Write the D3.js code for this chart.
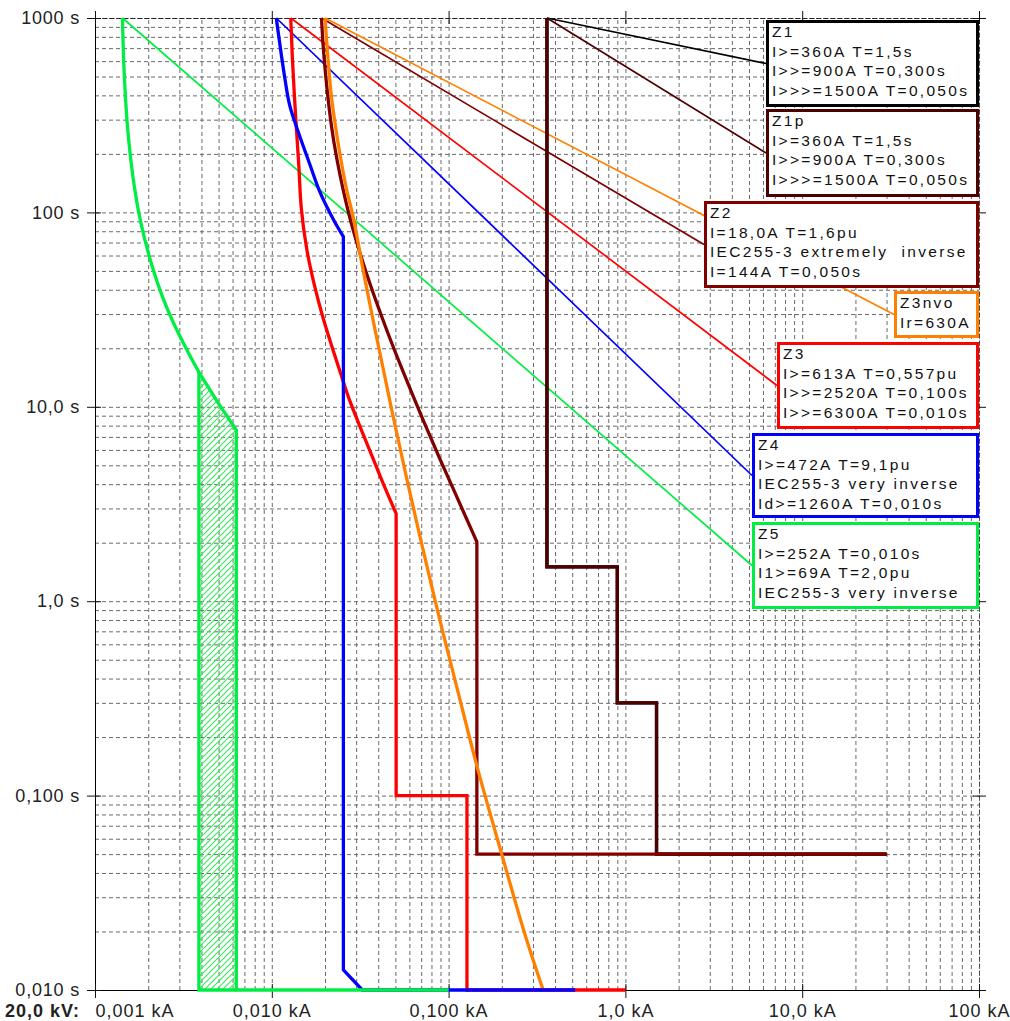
<!DOCTYPE html>
<html>
<head>
<meta charset="utf-8">
<script src="https://cdn.jsdelivr.net/npm/d3@7/dist/d3.min.js"></script>
<style>
html,body{margin:0;padding:0;background:#fff;}
svg{display:block;font-family:"Liberation Sans",Arial,sans-serif;}
</style>
</head>
<body>
<svg id="chart" width="1010" height="1021"></svg>
<script>
// ---------------- DATA (current in kA, time in s) ----------------
const xTickValues = [0.001, 0.01, 0.1, 1, 10, 100];
const xTickLabels = ["0,001 kA", "0,010 kA", "0,100 kA", "1,0 kA", "10,0 kA", "100 kA"];
const yTickValues = [1000, 100, 10, 1, 0.1, 0.01];
const yTickLabels = ["1000 s", "100 s", "10,0 s", "1,0 s", "0,100 s", "0,010 s"];
const voltageLabel = "20,0 kV:";

const z1Steps  = [[0.36,1000],[0.36,1.5],[0.9,1.5],[0.9,0.3],[1.5,0.3],[1.5,0.05],[30,0.05]];
const z1pSteps = [[0.36,1000],[0.36,1.5],[0.9,1.5],[0.9,0.3],[1.5,0.3],[1.5,0.05],[30,0.05]];

const z2Curve = [[0.0191,1000],[0.0198,610],[0.0216,291],[0.0234,186],[0.027,102],[0.0315,62],
                 [0.036,42.7],[0.045,24.4],[0.054,16],[0.072,8.5],[0.09,5.3],[0.108,3.66],
                 [0.126,2.67],[0.1445,2.02]];
const z2Steps = [[0.1445,2.02],[0.1445,0.05],[30,0.05]];

const z3nvoCurve = [[0.0200,1000],[0.0208,612],[0.0217,400],[0.0228,287],[0.0243,199],[0.0264,133],
                    [0.0288,95.3],[0.0329,50.2],[0.0360,33.2],[0.0394,22.2],[0.0433,14.7],[0.0475,9.8],
                    [0.0526,6.4],[0.0581,4.23],[0.0674,2.34],[0.081,1.15],[0.092,0.715],[0.1122,0.351],
                    [0.1464,0.136],[0.200,0.0498],[0.265,0.0205],[0.34,0.0102]];

const z3Curve = [[0.0128,1000],[0.0131,600],[0.0136,326],[0.0142,177],[0.0147,104],[0.0158,64],
                 [0.0174,42.4],[0.0196,28.2],[0.0222,19.6],[0.0246,14.7],[0.0273,11.05],[0.0326,7.35],
                 [0.0377,5.31],[0.0428,4.0],[0.0505,2.82]];
const z3Steps = [[0.0505,2.82],[0.0505,0.1],[0.127,0.1],[0.127,0.01],[1.0,0.01]];

const z4Curve = [[0.0106,1000],[0.01185,490],[0.01265,353],[0.0141,260],[0.0164,177],[0.0187,127.5],
                 [0.0223,92],[0.0254,75]];
const z4Steps = [[0.0254,75],[0.0254,0.0127],[0.0325,0.01],[0.52,0.01]];

const z5Curve = [[0.00143,1000],[0.00146,540],[0.00153,270],[0.00167,135],[0.00181,90],[0.00209,54],
                 [0.00243,36],[0.00278,27],[0.00348,18],[0.00387,15.1],[0.00417,13.5],[0.00487,10.8],
                 [0.00556,9.0],[0.0063,7.6]];
const z5Steps = [[0.0063,7.6],[0.0063,0.01],[0.1,0.01]];
const z5BandEdge = [[0.00387,15.1],[0.00387,0.01],[0.0063,0.01]];

const z1Legend    = ["Z1","I>=360A T=1,5s","I>>=900A T=0,300s","I>>>=1500A T=0,050s"];
const z1pLegend   = ["Z1p","I>=360A T=1,5s","I>>=900A T=0,300s","I>>>=1500A T=0,050s"];
const z2Legend    = ["Z2","I=18,0A T=1,6pu","IEC255-3 extremely  inverse","I=144A T=0,050s"];
const z3nvoLegend = ["Z3nvo","Ir=630A"];
const z3Legend    = ["Z3","I>=613A T=0,557pu","I>>=2520A T=0,100s","I>>=6300A T=0,010s"];
const z4Legend    = ["Z4","I>=472A T=9,1pu","IEC255-3 very inverse","Id>=1260A T=0,010s"];
const z5Legend    = ["Z5","I>=252A T=0,010s","I1>=69A T=2,0pu","IEC255-3 very inverse"];

// ---------------- LAYOUT ----------------
const FONT = "'Liberation Sans',Arial,sans-serif";
const svg = d3.select("#chart");
const L = 95, R = 979, T = 18, B = 990;
const x = d3.scaleLog().domain([0.001, 100]).range([L, R]);
const y = d3.scaleLog().domain([0.01, 1000]).range([B, T]);

const defs = svg.append("defs");
const pat = defs.append("pattern").attr("id","hatch").attr("patternUnits","userSpaceOnUse")
  .attr("width",6).attr("height",6);
pat.append("path").attr("d","M-1,1 L1,-1 M0,6 L6,0 M5,7 L7,5")
  .attr("stroke","#3ee860").attr("stroke-width",1.2);

// grid values
const xGrid = [], yGrid = [];
for (let e = -3; e <= 1; e++) for (let k = 1; k <= 9; k++) xGrid.push(k * Math.pow(10, e));
xGrid.push(100);
for (let e = -2; e <= 2; e++) for (let k = 1; k <= 9; k++) yGrid.push(k * Math.pow(10, e));
yGrid.push(1000);

const grid = svg.append("g");
grid.append("g").attr("transform",`translate(0,${B})`)
  .call(d3.axisBottom(x).tickValues(xGrid.filter(v=>v>0.0011)).tickSize(-(B-T)).tickFormat(""))
  .call(g=>g.select(".domain").remove())
  .call(g=>g.selectAll("line").attr("stroke","#6a6a6a").attr("stroke-dasharray","4,3"));
grid.append("g").attr("transform",`translate(${L},0)`)
  .call(d3.axisLeft(y).tickValues(yGrid.filter(v=>v>0.011)).tickSize(-(R-L)).tickFormat(""))
  .call(g=>g.select(".domain").remove())
  .call(g=>g.selectAll("line").attr("stroke","#6a6a6a").attr("stroke-dasharray","4,3"));

// borders
svg.append("line").attr("x1",L+0.5).attr("x2",R+0.5).attr("y1",T+0.5).attr("y2",T+0.5)
  .attr("stroke","#222").attr("stroke-dasharray","5,2");
svg.append("line").attr("x1",R+0.5).attr("x2",R+0.5).attr("y1",T+0.5).attr("y2",B+0.5)
  .attr("stroke","#444").attr("stroke-dasharray","4,3");
svg.append("line").attr("x1",L+0.5).attr("x2",L+0.5).attr("y1",T+0.5).attr("y2",B+0.5).attr("stroke","#000");
svg.append("line").attr("x1",L+0.5).attr("x2",R+0.5).attr("y1",B+0.5).attr("y2",B+0.5).attr("stroke","#000");

// decade tick marks (crossing)
function ticks(axisGen, tx, ty){
  svg.append("g").attr("transform",`translate(${tx},${ty})`).call(axisGen)
    .call(g=>g.select(".domain").remove())
    .call(g=>g.selectAll("line").attr("stroke","#111"))
    .call(g=>g.selectAll("text").remove());
}
ticks(d3.axisBottom(x).tickValues(xTickValues).tickSize(8), 0, B);
ticks(d3.axisTop(x).tickValues(xTickValues).tickSize(6), 0, B);
ticks(d3.axisTop(x).tickValues(xTickValues).tickSize(7), 0, T);
ticks(d3.axisBottom(x).tickValues(xTickValues).tickSize(6), 0, T);
ticks(d3.axisLeft(y).tickValues(yTickValues).tickSize(8), L, 0);
ticks(d3.axisRight(y).tickValues(yTickValues).tickSize(6), L, 0);
ticks(d3.axisRight(y).tickValues(yTickValues).tickSize(7), R, 0);
ticks(d3.axisLeft(y).tickValues(yTickValues).tickSize(6), R, 0);

// axis labels
const xAx = svg.append("g").attr("transform",`translate(0,${B})`)
  .call(d3.axisBottom(x).tickValues(xTickValues).tickSize(0).tickPadding(14)
        .tickFormat((d,i)=>xTickLabels[i]));
xAx.select(".domain").remove();
xAx.attr("font-family", FONT);
xAx.selectAll("text").attr("font-family",FONT).attr("font-size","18px")
  .attr("fill","#222").style("letter-spacing","1px")
  .attr("text-anchor",(d,i)=> i===0 ? "start" : "middle");
const yAx = svg.append("g").attr("transform",`translate(${L},0)`)
  .call(d3.axisLeft(y).tickValues(yTickValues).tickSize(0).tickPadding(15)
        .tickFormat((d,i)=>yTickLabels[i]));
yAx.select(".domain").remove();
yAx.attr("font-family", FONT);
yAx.selectAll("text").attr("font-family",FONT).attr("font-size","18px")
  .attr("fill","#222").style("letter-spacing","0.8px");
svg.append("text").attr("x",80).attr("y",1016.5).attr("text-anchor","end")
  .attr("font-family",FONT).attr("font-size","18px").attr("font-weight","bold").attr("fill","#222")
  .style("letter-spacing","1px").text(voltageLabel);

// ---------------- CURVES ----------------
const smooth = d3.line().x(d=>x(d[0])).y(d=>y(d[1])).curve(d3.curveCatmullRom.alpha(0.5));
const linear = d3.line().x(d=>x(d[0])).y(d=>y(d[1]));
function pathOf(curve, steps){
  let p = curve ? smooth(curve) : "";
  if (steps) p += curve ? linear(steps).replace(/^M/,"L") : linear(steps);
  return p;
}

const GREEN = "#00ee44";
const zones = [
  {legend:z1Legend,    color:"#000000", curve:null,       steps:z1Steps,  box:[766,20,979,107]},
  {legend:z1pLegend,   color:"#4d0000", curve:null,       steps:z1pSteps, box:[766,109,979,197]},
  {legend:z2Legend,    color:"#800000", curve:z2Curve,    steps:z2Steps,  box:[704,201,979,288]},
  {legend:z3nvoLegend, color:"#ff8000", curve:z3nvoCurve, steps:null,     box:[894,291,979,338]},
  {legend:z3Legend,    color:"#ff0000", curve:z3Curve,    steps:z3Steps,  box:[777,342,979,429]},
  {legend:z4Legend,    color:"#0000ff", curve:z4Curve,    steps:z4Steps,  box:[752,433,979,518]},
  {legend:z5Legend,    color:GREEN,     curve:z5Curve,    steps:z5Steps,  box:[752,522,979,609]}
];

// leaders
zones.forEach(z=>{
  const start = z.curve ? z.curve[0] : z.steps[0];
  svg.append("line").attr("x1",x(start[0])).attr("y1",y(start[1]))
    .attr("x2",z.box[0]).attr("y2",(z.box[1]+z.box[3])/2)
    .attr("stroke",z.color).attr("stroke-width",1.7);
});

// hatched band of Z5
const bandPts = z5Curve.filter(d=>d[0]>=z5BandEdge[0][0]).concat([z5Steps[1], z5BandEdge[1]]);
svg.append("path").attr("d", linear(bandPts) + "Z").attr("fill","url(#hatch)").attr("stroke","none");

zones.forEach(z=>{
  svg.append("path").attr("d", pathOf(z.curve, z.steps)).attr("fill","none")
    .attr("stroke", z.color).attr("stroke-width", 3.3).attr("stroke-linejoin","miter");
});
svg.append("path").attr("d", linear(z5BandEdge)).attr("fill","none")
  .attr("stroke",GREEN).attr("stroke-width",3.3);

// ---------------- LEGEND BOXES ----------------
zones.forEach(z=>{
  const [x0,y0,x1,y1] = z.box;
  svg.append("rect").attr("x",x0+1.5).attr("y",y0+1.5).attr("width",x1-x0-3).attr("height",y1-y0-3)
    .attr("fill","#fff").attr("stroke",z.color).attr("stroke-width",3);
  z.legend.forEach((t,i)=>{
    svg.append("text").attr("x",x0+6).attr("y",y0+17+i*19.6)
      .attr("font-family",FONT).attr("font-size","15.5px").attr("fill","#111")
      .style("letter-spacing","2.3px").style("white-space","pre").text(t);
  });
});
</script>
</body>
</html>
